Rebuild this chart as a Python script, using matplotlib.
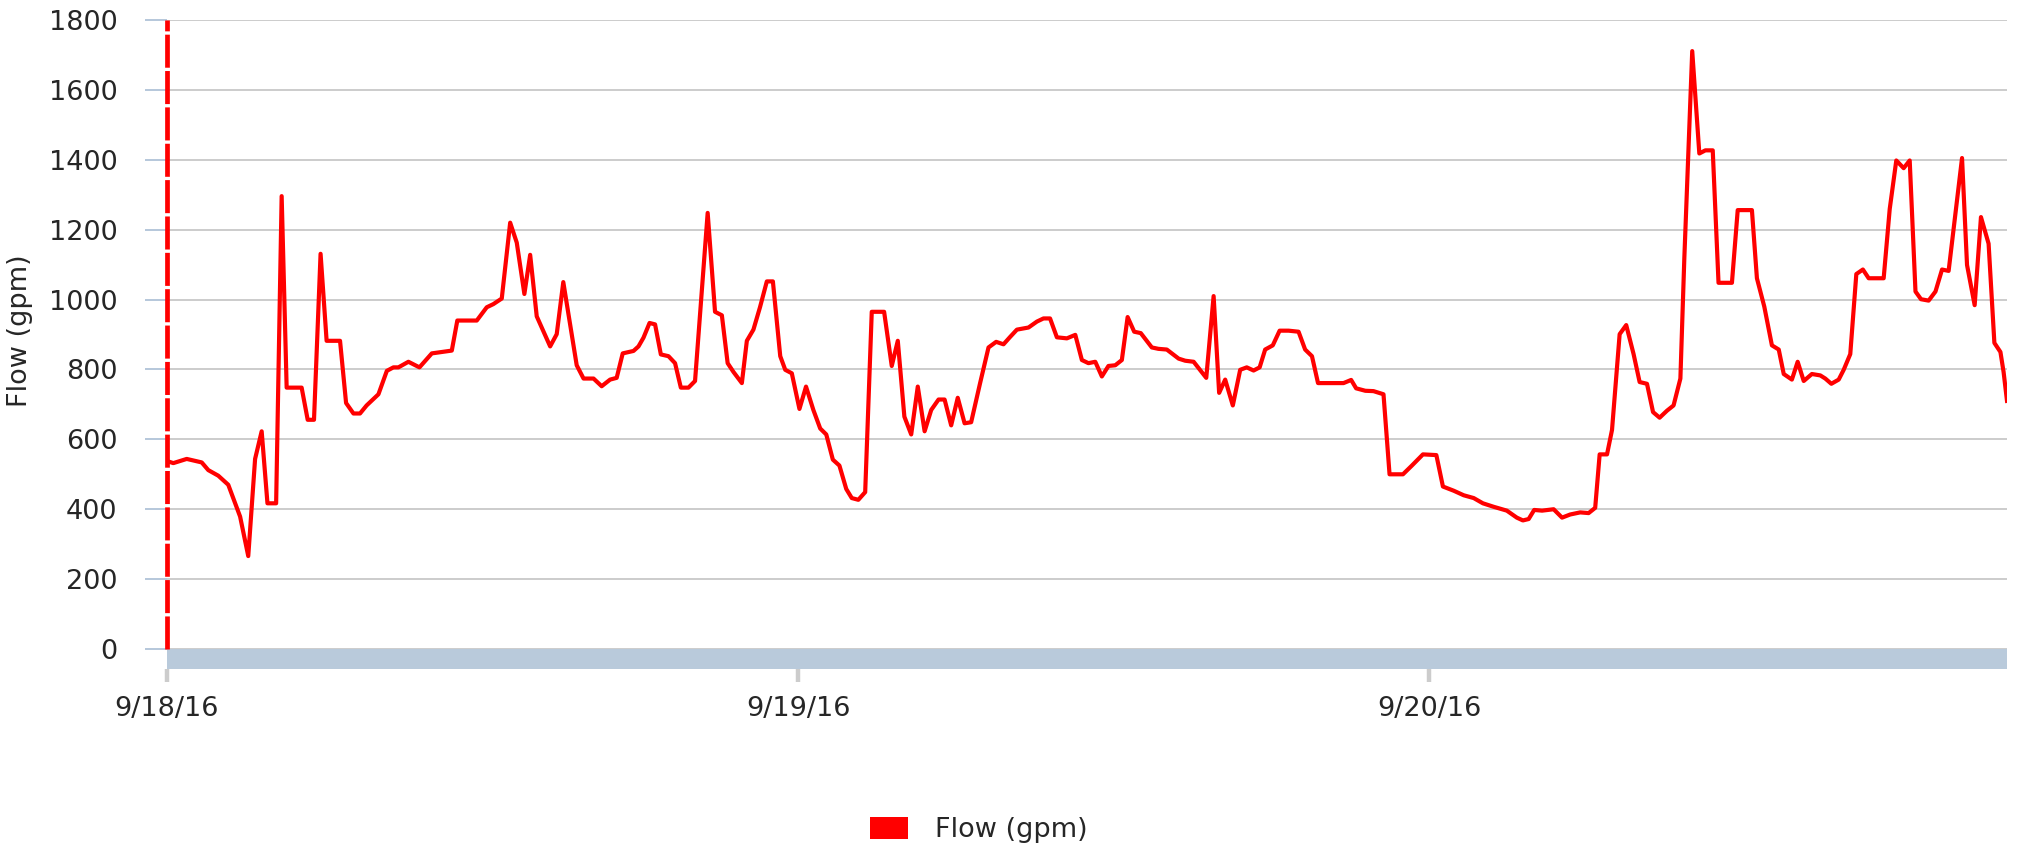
import matplotlib.pyplot as plt
from matplotlib.patches import Patch
import pandas as pd

# flow readings, hours after 9/18/16 00:00
hours = [0.00, 0.24, 0.75, 1.32, 1.57, 1.95, 2.33, 2.78, 3.09, 3.35, 3.60, 3.82, 4.15, 4.36, 4.55,
         5.12, 5.35, 5.59, 5.84, 6.07, 6.58, 6.81, 7.09, 7.34, 7.59, 8.04, 8.36, 8.61, 8.80, 9.18,
         9.60, 10.07, 10.45, 10.83, 11.04, 11.78, 12.16, 12.41, 12.73, 13.05, 13.30, 13.59, 13.81,
         14.06, 14.57, 14.82, 15.07, 15.58, 15.84, 16.22, 16.53, 16.85, 17.10, 17.33, 17.74, 17.93,
         18.12, 18.35, 18.56, 18.78, 19.07, 19.32, 19.54, 19.83, 20.08, 20.56, 20.84, 21.10, 21.32,
         21.54, 21.86, 22.05, 22.30, 22.55, 22.81, 23.04, 23.32, 23.51, 23.76, 24.05, 24.30, 24.58,
         24.84, 25.07, 25.32, 25.57, 25.83, 26.04, 26.29, 26.55, 26.80, 27.27, 27.56, 27.79, 28.04,
         28.30, 28.55, 28.81, 29.06, 29.34, 29.57, 29.82, 30.07, 30.33, 30.58, 30.92, 31.24, 31.53,
         31.81, 32.06, 32.32, 32.76, 33.08, 33.33, 33.58, 33.84, 34.22, 34.54, 34.79, 35.04, 35.30,
         35.55, 35.80, 36.06, 36.31, 36.53, 36.78, 37.03, 37.45, 37.70, 38.02, 38.47, 38.72, 39.04,
         39.52, 39.80, 40.01, 40.24, 40.53, 40.81, 41.06, 41.32, 41.55, 41.76, 42.05, 42.31, 42.65,
         43.03, 43.28, 43.54, 43.77, 44.74, 45.03, 45.22, 45.57, 45.88, 46.26, 46.49, 47.00, 47.34,
         47.76, 48.27, 48.52, 48.93, 49.31, 49.69, 50.04, 50.45, 50.95, 51.33, 51.56, 51.78, 51.99,
         52.29, 52.73, 53.05, 53.36, 53.74, 54.06, 54.31, 54.48, 54.76, 54.95, 55.24, 55.49, 55.77,
         56.00, 56.28, 56.51, 56.76, 57.04, 57.29, 57.55, 57.70, 58.00, 58.27, 58.50, 58.78, 59.00,
         59.51, 59.73, 60.27, 60.46, 60.74, 61.03, 61.29, 61.48, 61.79, 62.01, 62.24, 62.55, 62.87,
         63.06, 63.29, 63.57, 63.76, 64.01, 64.24, 64.49, 64.71, 65.28, 65.51, 65.76, 66.04, 66.27,
         66.49, 66.70, 66.99, 67.25, 67.50, 67.75, 68.01, 68.26, 68.45, 68.74, 68.98, 69.27, 69.49,
         69.72, 69.84, 69.97]
flow = [538, 532, 544, 534, 512, 496, 470, 379, 266, 544, 623, 417, 417, 1296, 748,
        748, 656, 656, 1131, 882, 882, 704, 674, 674, 697, 729, 796, 806, 806, 822,
        806, 846, 850, 854, 940, 940, 978, 987, 1003, 1220, 1163, 1016, 1128,
        952, 866, 901, 1050, 812, 774, 774, 752, 771, 776, 846, 853, 866,
        891, 933, 929, 843, 838, 818, 748, 748, 767, 1248, 965, 955, 818,
        793, 761, 882, 914, 978, 1052, 1052, 838, 799, 789, 687, 751, 684,
        631, 614, 542, 525, 458, 432, 427, 449, 965, 965, 810, 882, 665,
        614, 751, 623, 684, 714, 714, 640, 719, 646, 649, 761, 863, 879,
        872, 893, 914, 920, 937, 946, 946, 892, 889, 899, 827, 818, 822,
        780, 810, 812, 827, 950, 908, 904, 863, 859, 857, 831, 825, 822,
        776, 1010, 733, 771, 697, 799, 806, 797, 806, 857, 869, 911, 911,
        908, 857, 838, 761, 761, 770, 746, 739, 738, 729, 500, 500, 525,
        557, 555, 465, 453, 440, 432, 417, 407, 396, 376, 368, 372, 398,
        396, 400, 376, 385, 391, 389, 404, 557, 557, 627, 901, 927, 844,
        764, 759, 678, 662, 682, 697, 774, 1119, 1711, 1418, 1427, 1427, 1048,
        1048, 1256, 1256, 1061, 980, 869, 857, 787, 771, 822, 767, 787, 783,
        774, 759, 771, 799, 844, 1073, 1086, 1061, 1061, 1259, 1398, 1376, 1398,
        1023, 1001, 997, 1023, 1086, 1082, 1246, 1405, 1099, 984, 1236, 1160, 876,
        850, 793, 710]

y_ticks = [0, 200, 400, 600, 800, 1000, 1200, 1400, 1600, 1800]
date_ticks = ['2016-09-18', '2016-09-19', '2016-09-20']
date_labels = ['9/18/16', '9/19/16', '9/20/16']

times = pd.Timestamp('2016-09-18') + pd.to_timedelta(hours, unit='h')

plt.rcParams['font.family'] = ['DejaVu Sans']
txt = '#262626'
fs = 19.5

W, H = 2018, 852
fig = plt.figure(figsize=(W / 100, H / 100), dpi=100)
ax = fig.add_axes([167 / W, 1 - 669 / H, (2007 - 167) / W, (669 - 20) / H])

band = 1800 * 20 / 630  # grey strip under the zero line
ax.set_ylim(-band, 1800)
ax.set_xlim(times[0], times[-1])

ax.axhspan(-band, 0, color='#b9cadb', lw=0, zorder=1)
for v in y_ticks:
    ax.axhline(v, color='#cccccc', lw=1.4, zorder=0)

ax.vlines(times[0], 0, 1800, colors='red', linestyles=(0, (7.0, 0.7)), lw=3.4,
          zorder=3, clip_on=False)
ax.plot(times, flow, color='red', lw=3.0, zorder=4, solid_joinstyle='round')

for s in ax.spines.values():
    s.set_visible(False)

ax.set_yticks(y_ticks)
ax.tick_params(axis='y', length=15.8, width=1.4, color='#b5c7da', pad=20,
               labelsize=fs, labelcolor=txt)
ax.set_xticks(pd.to_datetime(date_ticks))
ax.set_xticklabels(date_labels)
ax.tick_params(axis='x', length=9.4, width=3.2, color='#cccccc', pad=10,
               labelsize=fs, labelcolor=txt)

fig.text(20 / W, 1 - 331 / H, 'Flow (gpm)', rotation=90, ha='center', va='center',
         fontsize=fs, color=txt)

fig.legend(handles=[Patch(facecolor='red', label='Flow (gpm)')], loc='center',
           bbox_to_anchor=(979 / W, 1 - 830 / H), frameon=False, fontsize=fs,
           handlelength=1.4, handleheight=0.9, handletextpad=1.0, labelcolor=txt)

fig.savefig('out.png', dpi=100)
